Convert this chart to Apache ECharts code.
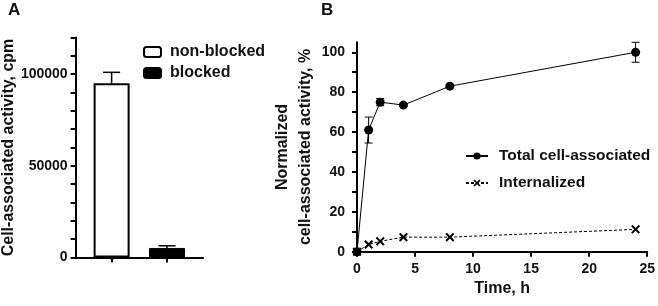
<!DOCTYPE html>
<html>
<head>
<meta charset="utf-8">
<script src="https://cdn.jsdelivr.net/npm/echarts@6/dist/echarts.min.js"></script>
<style>
  html, body { margin: 0; padding: 0; background: #fff; }
  #chart { width: 658px; height: 306px; }
</style>
</head>
<body>
<div id="chart"></div>
<script>
// panel A: cpm per group
const groupsA = ['non-blocked', 'blocked']
const positionsA = [1, 2]
const valuesA = [95000, 5200]
const errorsA = [6000, 1200]
const yTicksA = [0, 10000, 20000, 30000, 40000, 50000, 60000, 70000, 80000, 90000, 100000, 110000, 120000]
const yLabelsA = [0, 50000, 100000]

// panel B: time course
const timesB = [0, 1, 2, 4, 8, 24]
const totalB = [0, 61, 75, 73.5, 83, 100]
const totalErrB = [0, 6.5, 1.8, 0.6, 0.8, 5]
const internalB = [0, 3.6, 5.2, 7.3, 7.3, 11.2]
const xTicksB = [0, 5, 10, 15, 20, 25]
const yTicksB = [0, 10, 20, 30, 40, 50, 60, 70, 80, 90, 100]
const yLabelsB = [0, 20, 40, 60, 80, 100]

const FONT = "'Liberation Sans', Arial, sans-serif"
const INK = '#111'
const crossPath = 'path://M0,1.6L1.6,0L5,3.4L8.4,0L10,1.6L6.6,5L10,8.4L8.4,10L5,6.6L1.6,10L0,8.4L3.4,5Z'

// error bar drawn with api.coord, capWidth in px
function errorBar(capWidth, upOnly, lw) {
  return function(params, api) {
    const x = api.value(0)
    const y = api.value(1)
    const e = api.value(2)
    const top = api.coord([x, y + e])
    const bot = api.coord([x, upOnly ? y : y - e])
    const style = { stroke: '#000', lineWidth: lw }
    const children = [
      { type: 'line', shape: { x1: top[0], y1: top[1], x2: bot[0], y2: bot[1] }, style: style },
      { type: 'line', shape: { x1: top[0] - capWidth / 2, y1: top[1], x2: top[0] + capWidth / 2, y2: top[1] }, style: style }
    ]
    if (!upOnly) {
      children.push({ type: 'line', shape: { x1: bot[0] - capWidth / 2, y1: bot[1], x2: bot[0] + capWidth / 2, y2: bot[1] }, style: style })
    }
    return { type: 'group', children: children }
  }
}

const axisLine = { show: true, lineStyle: { color: '#000', width: 2 } }
const tickStyle = { color: '#000', width: 2 }
const labelFont = { fontFamily: FONT, fontWeight: 'bold', fontSize: 14, color: INK, formatter: v => String(v) }

const chart = echarts.init(document.getElementById('chart'))
chart.setOption({
  animation: false,
  textStyle: { fontFamily: FONT },
  title: [
    { text: 'A', left: 3, top: -3, textStyle: { fontFamily: FONT, fontWeight: 'bold', fontSize: 17, color: INK } },
    { text: 'B', left: 316, top: -3, textStyle: { fontFamily: FONT, fontWeight: 'bold', fontSize: 17, color: INK } }
  ],
  grid: [
    { left: 74, top: 37.5, width: 129, height: 220, containLabel: false },
    { left: 357, top: 42.3, width: 291, height: 209.4, containLabel: false }
  ],
  legend: [
    {
      data: groupsA,
      left: 138,
      top: 39,
      orient: 'vertical',
      itemWidth: 17,
      itemHeight: 10,
      itemGap: 5,
      textStyle: { fontFamily: FONT, fontWeight: 'bold', fontSize: 16, color: INK, lineHeight: 16, padding: [0, 0, 0, 4] }
    },
    {
      data: ['Total cell-associated', 'Internalized'],
      left: 460,
      top: 142,
      orient: 'vertical',
      itemWidth: 22,
      itemHeight: 9,
      itemGap: 9,
      textStyle: { fontFamily: FONT, fontWeight: 'bold', fontSize: 15.5, color: INK, lineHeight: 18, padding: [0, 0, 0, 6] }
    }
  ],
  xAxis: [
    {
      gridIndex: 0,
      type: 'value',
      min: 0.35,
      max: 2.65,
      axisLine: axisLine,
      axisTick: { show: true, length: 5, lineStyle: tickStyle, customValues: positionsA },
      axisLabel: { show: false },
      splitLine: { show: false }
    },
    {
      gridIndex: 1,
      type: 'value',
      min: 0,
      max: 25,
      interval: 5,
      name: 'Time, h',
      nameLocation: 'middle',
      nameGap: 28,
      nameTextStyle: { fontFamily: FONT, fontWeight: 'bold', fontSize: 16, color: INK },
      axisLine: axisLine,
      axisTick: { show: true, length: 5, lineStyle: tickStyle, customValues: xTicksB },
      axisLabel: Object.assign({ margin: 10, customValues: xTicksB }, labelFont),
      splitLine: { show: false }
    }
  ],
  yAxis: [
    {
      gridIndex: 0,
      type: 'value',
      min: 0,
      max: 120000,
      name: 'Cell-associated activity, cpm',
      nameLocation: 'middle',
      nameGap: 56,
      nameTextStyle: { fontFamily: FONT, fontWeight: 'bold', fontSize: 16, color: INK },
      axisLine: axisLine,
      axisTick: { show: true, length: 5, lineStyle: tickStyle, customValues: yTicksA },
      axisLabel: Object.assign({ margin: 8, customValues: yLabelsA }, labelFont),
      splitLine: { show: false }
    },
    {
      gridIndex: 1,
      type: 'value',
      min: 0,
      max: 105,
      name: 'Normalized\ncell-associated activity, %',
      nameLocation: 'middle',
      nameGap: 40,
      nameTextStyle: { fontFamily: FONT, fontWeight: 'bold', fontSize: 16, color: INK, lineHeight: 23 },
      axisLine: axisLine,
      axisTick: { show: true, length: 5, lineStyle: tickStyle, customValues: yTicksB },
      axisLabel: Object.assign({ margin: 12, customValues: yLabelsB }, labelFont),
      splitLine: { show: false }
    }
  ],
  series: [
    {
      name: groupsA[0],
      type: 'bar',
      xAxisIndex: 0,
      yAxisIndex: 0,
      barWidth: 36,
      barGap: '-100%',
      itemStyle: { color: '#fff', borderColor: '#000', borderWidth: 2 },
      data: [[positionsA[0], valuesA[0]]]
    },
    {
      name: groupsA[1],
      type: 'bar',
      xAxisIndex: 0,
      yAxisIndex: 0,
      barWidth: 36,
      barGap: '-100%',
      itemStyle: { color: '#000', borderColor: '#000', borderWidth: 1 },
      data: [[positionsA[1], valuesA[1]]]
    },
    {
      type: 'custom',
      xAxisIndex: 0,
      yAxisIndex: 0,
      renderItem: errorBar(17, true, 1.5),
      data: positionsA.map((p, i) => [p, valuesA[i], errorsA[i]]),
      z: 1
    },
    {
      type: 'custom',
      xAxisIndex: 1,
      yAxisIndex: 1,
      renderItem: errorBar(8, false, 1),
      data: timesB.map((t, i) => [t, totalB[i], totalErrB[i]]),
      z: 3
    },
    {
      name: 'Total cell-associated',
      type: 'line',
      xAxisIndex: 1,
      yAxisIndex: 1,
      symbol: 'circle',
      symbolSize: 9,
      color: '#000',
      lineStyle: { color: '#000', width: 1 },
      itemStyle: { color: '#000' },
      data: timesB.map((t, i) => [t, totalB[i]]),
      z: 4
    },
    {
      name: 'Internalized',
      type: 'line',
      xAxisIndex: 1,
      yAxisIndex: 1,
      symbol: crossPath,
      symbolSize: 9,
      color: '#000',
      lineStyle: { color: '#000', width: 1, type: [3, 2] },
      itemStyle: { color: '#000' },
      data: timesB.map((t, i) => [t, internalB[i]]),
      z: 5
    }
  ]
})
</script>
</body>
</html>
